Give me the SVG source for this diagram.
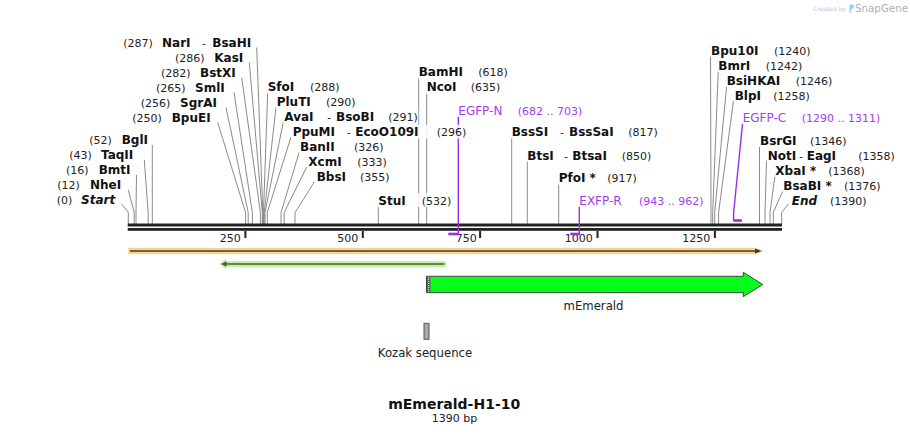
<svg xmlns="http://www.w3.org/2000/svg" width="910" height="434" viewBox="0 0 910 434">
<style>
text{font-family:"DejaVu Sans",Verdana,sans-serif;fill:#111}
.n{font-size:12px;font-weight:bold}
.bi{font-size:12px;font-weight:bold;font-style:italic}
.c{font-size:11px;fill:#222}
.d{font-size:11px;fill:#222}
.p{font-size:12px;fill:#a23cf0}
.pc{font-size:11px;fill:#a23cf0}
.bg{fill:#fff;fill-opacity:0.82}
.ln{stroke:#8a8a8a;stroke-width:1;fill:none}
.pl{stroke:#9a2ee8;stroke-width:1.4;fill:none}
.pb{stroke:#9a2ee8;stroke-width:2.6}
.tk{fill:#222}
.tl{font-size:11px;fill:#222;text-anchor:end}
.f{font-size:11.7px;fill:#222;text-anchor:middle}
</style>
<rect width="910" height="434" fill="#fff"/>

<g id="watermark">
<text x="813" y="10.5" style="font-size:6px;fill:#c4c4c4">Created by</text>
<path d="M849.5,4.5 h2.3 a2.3,2.3 0 0 1 0,4.6 h-0.6 v3.6 h-1.7 z" fill="#9fcdeb"/>
<text x="855" y="11.8" style="font-size:10.3px;fill:#b0b0b0">SnapGene</text>
</g>

<g id="connectors">
<polyline class="ln" points="256.7,47.5 262.8,212.5 262.8,224"/>
<polyline class="ln" points="249.3,62.5 262.3,212.5 262.3,224"/>
<polyline class="ln" points="241.7,77.5 260.4,212.5 260.4,224"/>
<polyline class="ln" points="234,92.5 252.4,212.5 252.4,224"/>
<polyline class="ln" points="226,107.5 248.2,212.5 248.2,224"/>
<polyline class="ln" points="217.7,122.5 245.6,212.5 245.6,224"/>
<polyline class="ln" points="152.3,145 152.3,224"/>
<polyline class="ln" points="144.3,160 148.2,212.5 148.2,224"/>
<polyline class="ln" points="136.5,175 136,212.5 136,224"/>
<polyline class="ln" points="128.3,190 134.2,212.5 134.2,224"/>
<polyline class="ln" points="121.7,204 128.3,212.5 128.3,224"/>
<polyline class="ln" points="267.7,92 263.5,212.5 263.5,224"/>
<polyline class="ln" points="276,107 264.3,212.5 264.3,224"/>
<polyline class="ln" points="283.3,122 265,212.5 265,224"/>
<polyline class="ln" points="291,137 267.3,212.5 267.3,224"/>
<polyline class="ln" points="299.3,152 281,212.5 281,224"/>
<polyline class="ln" points="306.7,167 284.2,212.5 284.2,224"/>
<polyline class="ln" points="314.3,182 295,212.5 295,224"/>
<polyline class="ln" points="378.3,206 378.3,224"/>
<polyline class="ln" points="418.7,77 418.7,224"/>
<polyline class="ln" points="426.7,92 426.7,224"/>
<polyline class="ln" points="511.7,137 511.7,224"/>
<polyline class="ln" points="527.3,160 527.3,224"/>
<polyline class="ln" points="558.7,183 558.7,224"/>
<polyline class="ln" points="710.5,55.5 711,212.5 711,224"/>
<polyline class="ln" points="718.3,70.5 712.7,212.5 712.7,224"/>
<polyline class="ln" points="726.7,85.5 714.7,212.5 714.7,224"/>
<polyline class="ln" points="733.5,100.5 718.6,212.5 718.6,224"/>
<polyline class="ln" points="759.5,145.5 759.5,224"/>
<polyline class="ln" points="766.5,160.5 765,212.5 765,224"/>
<polyline class="ln" points="775,175.5 770,212.5 770,224"/>
<polyline class="ln" points="783,190.5 773.3,212.5 773.3,224"/>
<polyline class="ln" points="788.3,204 781.7,212.5 781.7,224"/>
</g>

<g id="sequence">
<rect x="127.7" y="223.5" width="654.3" height="3" fill="#222"/>
<rect x="127.7" y="228" width="654.3" height="2.8" fill="#222"/>
<rect class="tk" x="244.4" y="231" width="2" height="7"/>
<rect class="tk" x="361.8" y="231" width="2" height="7"/>
<rect class="tk" x="479.1" y="231" width="2" height="7"/>
<rect class="tk" x="596.5" y="231" width="2" height="7"/>
<rect class="tk" x="713.9" y="231" width="2" height="7"/>
<text class="tl" x="240.8" y="241.5">250</text>
<text class="tl" x="358.3" y="241.5">500</text>
<text class="tl" x="476.7" y="241.5">750</text>
<text class="tl" x="592.8" y="241.5">1000</text>
<text class="tl" x="710.2" y="241.5">1250</text>
</g>

<g id="primer-EGFP-N">
<polyline class="pl" points="458.3,116 458.3,234"/>
<line class="pb" x1="448.3" y1="234" x2="459" y2="234"/>
<rect class="bg" x="457" y="103" width="127" height="14"/>
<text class="p" x="458.3" y="114.5">EGFP-N</text>
<text class="pc" x="517.7" y="114.5">(682 .. 703)</text>
</g>
<g id="primer-EXFP-R">
<polyline class="pl" points="579.3,206 579.3,234"/>
<line class="pb" x1="570.3" y1="234" x2="580" y2="234"/>
<rect class="bg" x="578" y="193" width="129" height="14"/>
<text class="p" x="579.3" y="204.5">EXFP-R</text>
<text class="pc" x="639" y="204.5">(943 .. 962)</text>
</g>
<g id="primer-EGFP-C">
<polyline class="pl" points="742.7,122 733.6,213 733.6,220.5"/>
<line class="pb" x1="733.3" y1="220.5" x2="742" y2="220.5"/>
<rect class="bg" x="741" y="110" width="141" height="14"/>
<text class="p" x="742.7" y="121.5">EGFP-C</text>
<text class="pc" x="801.7" y="121.5">(1290 .. 1311)</text>
</g>

<g id="e-NarI"><rect class="bg" x="122" y="35" width="131" height="14"/><text class="c" x="123.3" y="46.5">(287)</text><text class="n" x="162" y="46.5">NarI</text><text class="c" x="202" y="46.5">-</text><text class="n" x="212.3" y="46.5">BsaHI</text></g>
<g id="e-KasI"><rect class="bg" x="174" y="50" width="71" height="14"/><text class="c" x="175" y="61.5">(286)</text><text class="n" x="214.3" y="61.5">KasI</text></g>
<g id="e-BstXI"><rect class="bg" x="160" y="65" width="77" height="14"/><text class="c" x="161" y="76.5">(282)</text><text class="n" x="200" y="76.5">BstXI</text></g>
<g id="e-SmlI"><rect class="bg" x="155" y="80" width="71" height="14"/><text class="c" x="156" y="91.5">(265)</text><text class="n" x="195" y="91.5">SmlI</text></g>
<g id="e-SgrAI"><rect class="bg" x="139.7" y="95" width="78" height="14"/><text class="c" x="140.7" y="106.5">(256)</text><text class="n" x="180" y="106.5">SgrAI</text></g>
<g id="e-BpuEI"><rect class="bg" x="131.3" y="110" width="80" height="14"/><text class="c" x="132.3" y="121.5">(250)</text><text class="n" x="171.7" y="121.5">BpuEI</text></g>
<g id="e-BglI"><rect class="bg" x="88.3" y="132.3" width="61" height="14"/><text class="c" x="89.3" y="143.8">(52)</text><text class="n" x="121.7" y="143.8">BglI</text></g>
<g id="e-TaqII"><rect class="bg" x="68.3" y="147.3" width="71" height="14"/><text class="c" x="69.3" y="158.8">(43)</text><text class="n" x="101" y="158.8">TaqII</text></g>
<g id="e-BmtI"><rect class="bg" x="65" y="162.3" width="67" height="14"/><text class="c" x="66" y="173.8">(16)</text><text class="n" x="98.7" y="173.8">BmtI</text></g>
<g id="e-NheI"><rect class="bg" x="56.3" y="177.3" width="67" height="14"/><text class="c" x="57.3" y="188.8">(12)</text><text class="n" x="90" y="188.8">NheI</text></g>
<g id="e-Start"><rect class="bg" x="55.7" y="192.3" width="60" height="14"/><text class="c" x="56.7" y="203.8">(0)</text><text class="bi" x="81" y="203.8">Start</text></g>

<g id="e-SfoI"><rect class="bg" x="266.7" y="79.7" width="74" height="14"/><text class="n" x="267.7" y="91.2">SfoI</text><text class="c" x="310" y="91.2">(288)</text></g>
<g id="e-PluTI"><rect class="bg" x="275.7" y="94.7" width="81" height="14"/><text class="n" x="276.7" y="106.2">PluTI</text><text class="c" x="326" y="106.2">(290)</text></g>
<g id="e-AvaI"><rect class="bg" x="283.3" y="109.7" width="135" height="14"/><text class="n" x="284.3" y="121.2">AvaI</text><text class="c" x="327.3" y="121.2">-</text><text class="n" x="336" y="121.2">BsoBI</text><text class="c" x="388.3" y="121.2">(291)</text></g>
<g id="e-PpuMI"><rect class="bg" x="291.7" y="124.7" width="175" height="14"/><text class="n" x="292.7" y="136.2">PpuMI</text><text class="c" x="346.7" y="136.2">-</text><text class="n" x="355.3" y="136.2">EcoO109I</text><text class="c" x="436.7" y="136.2">(296)</text></g>
<g id="e-BanII"><rect class="bg" x="299" y="139.7" width="85" height="14"/><text class="n" x="300" y="151.2">BanII</text><text class="c" x="354" y="151.2">(326)</text></g>
<g id="e-XcmI"><rect class="bg" x="307.3" y="154.7" width="80" height="14"/><text class="n" x="308.3" y="166.2">XcmI</text><text class="c" x="357.3" y="166.2">(333)</text></g>
<g id="e-BbsI"><rect class="bg" x="315.7" y="169.7" width="74" height="14"/><text class="n" x="316.7" y="181.2">BbsI</text><text class="c" x="360" y="181.2">(355)</text></g>
<g id="e-StuI"><rect class="bg" x="377.3" y="193" width="75" height="14"/><text class="n" x="378.3" y="204.5">StuI</text><text class="c" x="421.7" y="204.5">(532)</text></g>
<g id="e-BamHI"><rect class="bg" x="417.7" y="64.7" width="91" height="14"/><text class="n" x="418.7" y="76.2">BamHI</text><text class="c" x="478.3" y="76.2">(618)</text></g>
<g id="e-NcoI"><rect class="bg" x="425.7" y="79.7" width="75" height="14"/><text class="n" x="426.7" y="91.2">NcoI</text><text class="c" x="470.7" y="91.2">(635)</text></g>
<g id="e-BssSI"><rect class="bg" x="510.7" y="124.7" width="148" height="14"/><text class="n" x="511.7" y="136.2">BssSI</text><text class="c" x="560" y="136.2">-</text><text class="n" x="569" y="136.2">BssSaI</text><text class="c" x="628.3" y="136.2">(817)</text></g>
<g id="e-BtsI"><rect class="bg" x="526.3" y="148" width="126" height="14"/><text class="n" x="527.3" y="159.5">BtsI</text><text class="c" x="564" y="159.5">-</text><text class="n" x="572.3" y="159.5">BtsaI</text><text class="c" x="621.7" y="159.5">(850)</text></g>
<g id="e-PfoI"><rect class="bg" x="557.7" y="170.7" width="80" height="14"/><text class="n" x="558.7" y="182.2">PfoI *</text><text class="c" x="607.3" y="182.2">(917)</text></g>

<g id="e-Bpu10I"><rect class="bg" x="710" y="43" width="101" height="14"/><text class="n" x="711" y="54.5">Bpu10I</text><text class="c" x="774" y="54.5">(1240)</text></g>
<g id="e-BmrI"><rect class="bg" x="717.3" y="58" width="86" height="14"/><text class="n" x="718.3" y="69.5">BmrI</text><text class="c" x="765.7" y="69.5">(1242)</text></g>
<g id="e-BsiHKAI"><rect class="bg" x="725.7" y="73" width="107" height="14"/><text class="n" x="726.7" y="84.5">BsiHKAI</text><text class="c" x="795.7" y="84.5">(1246)</text></g>
<g id="e-BlpI"><rect class="bg" x="733.7" y="88" width="77" height="14"/><text class="n" x="734.7" y="99.5">BlpI</text><text class="c" x="773.3" y="99.5">(1258)</text></g>
<g id="e-BsrGI"><rect class="bg" x="759" y="133" width="88" height="14"/><text class="n" x="760" y="144.5">BsrGI</text><text class="c" x="810" y="144.5">(1346)</text></g>
<g id="e-NotI"><rect class="bg" x="766.7" y="148" width="129" height="14"/><text class="n" x="767.7" y="159.5">NotI</text><text class="c" x="799" y="159.5">-</text><text class="n" x="806.7" y="159.5">EagI</text><text class="c" x="858.3" y="159.5">(1358)</text></g>
<g id="e-XbaI"><rect class="bg" x="774.3" y="163" width="91" height="14"/><text class="n" x="775.3" y="174.5">XbaI *</text><text class="c" x="828.3" y="174.5">(1368)</text></g>
<g id="e-BsaBI"><rect class="bg" x="782.3" y="178" width="99" height="14"/><text class="n" x="783.3" y="189.5">BsaBI *</text><text class="c" x="844" y="189.5">(1376)</text></g>
<g id="e-End"><rect class="bg" x="790.7" y="193" width="77" height="14"/><text class="bi" x="791.7" y="204.5">End</text><text class="c" x="830" y="204.5">(1390)</text></g>

<g id="feature-orf-forward">
<path d="M128.3,248.3 H755.5 L763,251 L755.5,253.7 H128.3 Z" fill="#fdd188" stroke="#f6c474" stroke-width="0.6"/>
<line x1="130" y1="251" x2="756" y2="251" stroke="#3d3d3d" stroke-width="1.6"/>
<polygon points="755,248.6 761.5,251 755,253.4" fill="#3d3d3d"/>
</g>
<g id="feature-orf-reverse">
<path d="M445.7,261 H226 V258.5 L219.3,264 L226,269.5 V267 H445.7 Z" fill="#c3f39a"/>
<line x1="224" y1="264" x2="444.5" y2="264" stroke="#4a5840" stroke-width="1.6"/>
<polygon points="226.5,261.3 221,264 226.5,266.7" fill="#4a5840"/>
</g>
<g id="feature-mEmerald">
<path d="M426.5,276.3 H743.3 V272.3 L762.7,284.5 L743.3,296.7 V292.7 H426.5 Z" fill="#06ff1a" stroke="#404040" stroke-width="1"/>
<rect x="427" y="276.8" width="3.5" height="15.4" fill="#606060"/>
<line x1="428.7" y1="277" x2="428.7" y2="292" stroke="#fff" stroke-width="1" stroke-dasharray="1,1"/>
<text class="f" x="593.5" y="309.5">mEmerald</text>
</g>
<g id="feature-kozak">
<rect x="424" y="323.3" width="5" height="16" fill="#a6a9ad" stroke="#555" stroke-width="1"/>
<text class="f" x="425" y="357">Kozak sequence</text>
</g>

<g id="title">
<text x="454.2" y="409" style="font-size:14px;font-weight:bold;text-anchor:middle">mEmerald-H1-10</text>
<text x="454.5" y="421.5" style="font-size:11px;text-anchor:middle;fill:#222">1390 bp</text>
</g>
</svg>
